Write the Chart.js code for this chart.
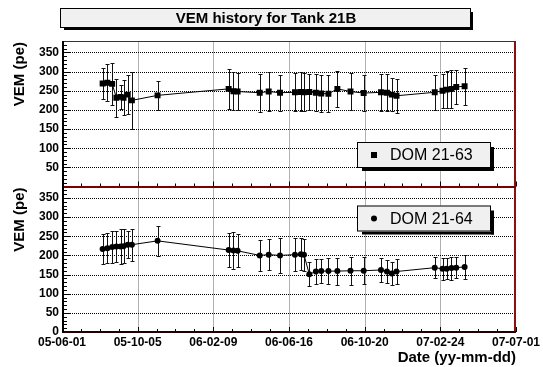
<!DOCTYPE html>
<html lang="en">
<head>
    <meta charset="utf-8">
    <title>VEM history for Tank 21B</title>
    <script src="https://cdn.jsdelivr.net/npm/chart.js"></script>
    <style>
        html, body { margin: 0; padding: 0; background: #fff; }
        #wrap { position: relative; width: 543px; height: 367px; }
    </style>
</head>
<body>
    <div id="wrap"><canvas id="grafico"></canvas></div>

    <script>
        // run dates (yyyy-mm-dd)
        let datas = ['2005-08-08', '2005-08-16', '2005-08-24', '2005-08-31', '2005-09-07', '2005-09-12', '2005-09-19',
            '2005-09-26', '2005-11-08', '2006-03-07', '2006-03-15', '2006-03-22', '2006-04-28', '2006-05-13',
            '2006-06-01', '2006-06-26', '2006-07-06', '2006-07-11', '2006-07-20', '2006-07-31', '2006-08-09',
            '2006-08-21', '2006-09-05', '2006-09-27', '2006-10-19', '2006-11-17', '2006-11-27', '2006-12-05',
            '2006-12-13', '2007-02-15', '2007-02-28', '2007-03-07', '2007-03-15', '2007-03-23', '2007-04-06'];

        // DOM 21-63 : VEM (pe) and its error
        let vem63 = [269, 271, 268, 232, 234, 232, 240, 225, 238, 255, 249, 248, 245, 248, 245, 246, 247, 246,
            247, 245, 243, 242, 255, 248, 244, 246, 245, 240, 237, 246, 250, 253, 255, 260, 262];
        let err63 = [41, 48, 54, 50, 31, 46, 50, 75, 37, 52, 49, 49, 50, 50, 47, 50, 51, 50,
            48, 49, 49, 48, 47, 48, 48, 48, 49, 44, 44, 45, 45, 48, 49, 45, 48];

        // DOM 21-64 : VEM (pe) and its error
        let vem64 = [217, 219, 222, 223, 223, 224, 228, 228, 238, 214, 213, 212, 200, 202, 200, 202, 203, 202,
            151, 158, 159, 159, 159, 160, 160, 162, 158, 153, 158, 168, 165, 165, 167, 168, 170];
        let err64 = [39, 39, 41, 40, 46, 45, 36, 42, 40, 44, 48, 43, 41, 41, 45, 43, 42, 42,
            32, 32, 32, 33, 35, 36, 35, 32, 29, 31, 32, 28, 28, 27, 30, 27, 32];

        // axis range and tick labels
        let inicio = '2005-06-01';
        let fim = '2007-07-01';
        let divisoesX = 6;
        let ticksYTopo = [50, 100, 150, 200, 250, 300, 350];
        let ticksYBase = [0, 50, 100, 150, 200, 250, 300, 350];
        let maxY = 380;

        const t0 = Date.parse(inicio);
        const t1 = Date.parse(fim);
        const fonte = '"Liberation Sans", Arial, Helvetica, sans-serif';

        function fmtData(v) {
            let d = new Date(Math.round(v) + 1000);
            let p = n => String(n).padStart(2, '0');
            return p(d.getUTCFullYear() % 100) + '-' + p(d.getUTCMonth() + 1) + '-' + p(d.getUTCDate());
        }

        function pontos(vals) {
            return datas.map((d, i) => ({ x: Date.parse(d), y: vals[i] }));
        }

        function eixoY(ticks) {
            return {
                type: 'linear',
                position: 'left',
                stack: 'vem',
                stackWeight: 1,
                min: 0,
                max: maxY,
                afterBuildTicks: s => { s.ticks = ticks.map(v => ({ value: v })); },
                afterFit: s => { s.width = 62; },
                grid: { display: false, drawTicks: false },
                border: { display: false },
                ticks: {
                    color: '#000',
                    padding: 3,
                    autoSkip: false,
                    font: { family: fonte, size: 12, weight: 'bold' }
                }
            };
        }

        function caixa(ctx, x, y, w, h, sombra) {
            ctx.fillStyle = '#000';
            ctx.fillRect(x + sombra + 2, y + h, w - 2, sombra);
            ctx.fillRect(x + w, y + sombra + 2, sombra, h - 2);
            ctx.fillStyle = '#f0f0f0';
            ctx.fillRect(x, y, w, h);
            ctx.strokeStyle = '#000';
            ctx.lineWidth = 1;
            ctx.strokeRect(x + 0.5, y + 0.5, w - 1, h - 1);
        }

        // ROOT style decorations: grid, error bars, frame, inner ticks, titles, legend boxes
        const estiloRoot = {
            id: 'estiloRoot',
            beforeDatasetsDraw(chart) {
                const ctx = chart.ctx;
                const area = chart.chartArea;
                const L = Math.round(area.left), R = Math.round(area.right);
                ctx.save();

                // vertical grid at the date divisions
                ctx.strokeStyle = '#b0b0b0';
                ctx.lineWidth = 1;
                for (let k = 1; k < divisoesX; k++) {
                    const x = Math.round(area.left + k * area.width / divisoesX) + 0.5;
                    ctx.beginPath();
                    ctx.moveTo(x, area.top);
                    ctx.lineTo(x, area.bottom);
                    ctx.stroke();
                }

                // horizontal dotted grid, one set per panel
                ctx.fillStyle = '#000';
                [chart.scales.yTopo, chart.scales.yBase].forEach(ys => {
                    ys.ticks.forEach(t => {
                        if (t.value === 0) return;
                        const y = Math.round(ys.getPixelForValue(t.value));
                        for (let x = L + 2; x < R; x += 2) ctx.fillRect(x, y, 1, 1);
                    });
                });

                // error bars
                ctx.beginPath();
                ctx.rect(area.left, area.top, area.width, area.height);
                ctx.clip();
                ctx.strokeStyle = '#111';
                ctx.lineWidth = 1;
                chart.data.datasets.forEach((ds, i) => {
                    const meta = chart.getDatasetMeta(i);
                    const ys = chart.scales[ds.yAxisID];
                    meta.data.forEach((pt, j) => {
                        const v = ds.data[j].y, e = ds.erros[j];
                        const x = Math.round(pt.x) + 0.5;
                        const a = Math.round(ys.getPixelForValue(v + e)) + 0.5;
                        const b = Math.round(ys.getPixelForValue(v - e)) + 0.5;
                        ctx.beginPath();
                        ctx.moveTo(x, a); ctx.lineTo(x, b);
                        ctx.moveTo(x - 2, a); ctx.lineTo(x + 2, a);
                        ctx.moveTo(x - 2, b); ctx.lineTo(x + 2, b);
                        ctx.stroke();
                    });
                });
                ctx.restore();
            },
            afterDraw(chart) {
                const ctx = chart.ctx;
                const area = chart.chartArea;
                const sx = chart.scales.x;
                const paineis = [chart.scales.yTopo, chart.scales.yBase];
                ctx.save();

                // inner ticks on the y axes and along the bottom of each panel
                ctx.strokeStyle = '#000';
                ctx.lineWidth = 1;
                paineis.forEach(ys => {
                    for (let v = 0; v <= maxY; v += 10) {
                        const y = Math.round(ys.getPixelForValue(v)) + 0.5;
                        const len = v % 50 === 0 ? 9 : 5;
                        ctx.beginPath();
                        ctx.moveTo(area.left, y); ctx.lineTo(area.left + len, y);
                        ctx.stroke();
                    }
                    const passo = (t1 - t0) / divisoesX / 4;
                    for (let k = 0; k <= divisoesX * 4; k++) {
                        const x = Math.round(sx.getPixelForValue(t0 + k * passo)) + 0.5;
                        const len = k % 4 === 0 ? 5 : 3;
                        ctx.beginPath();
                        ctx.moveTo(x, ys.bottom); ctx.lineTo(x, ys.bottom - len);
                        ctx.stroke();
                    }
                });

                // frame
                ctx.strokeStyle = '#8a1010';
                ctx.lineWidth = 1;
                ctx.strokeRect(area.left + 0.5, area.top + 0.5, area.width - 1, area.height - 1);
                ctx.lineWidth = 2;
                ctx.beginPath();
                ctx.moveTo(area.right - 1, area.top); ctx.lineTo(area.right - 1, area.bottom);
                ctx.stroke();
                const meio = Math.round(chart.scales.yTopo.bottom);
                ctx.strokeStyle = '#7a0000';
                ctx.beginPath();
                ctx.moveTo(area.left, meio); ctx.lineTo(area.right, meio);
                ctx.stroke();
                ctx.strokeStyle = '#200000';
                ctx.beginPath();
                ctx.moveTo(area.left, area.bottom); ctx.lineTo(area.right, area.bottom);
                ctx.stroke();
                ctx.strokeStyle = '#000';
                ctx.beginPath();
                ctx.moveTo(area.left + 1, area.top); ctx.lineTo(area.left + 1, area.bottom + 1);
                ctx.stroke();

                // axis titles
                ctx.fillStyle = '#000';
                ctx.font = 'bold 15px ' + fonte;
                paineis.forEach(ys => {
                    ctx.save();
                    ctx.translate(20, ys.top + 1);
                    ctx.rotate(-Math.PI / 2);
                    ctx.textAlign = 'right';
                    ctx.textBaseline = 'middle';
                    ctx.fillText('VEM (pe)', 0, 0);
                    ctx.restore();
                });
                ctx.textAlign = 'right';
                ctx.textBaseline = 'middle';
                ctx.fillText('Date (yy-mm-dd)', area.right, 358);

                // title box
                caixa(ctx, 60, 8, 411, 20, 2);
                ctx.fillStyle = '#000';
                ctx.font = 'bold 15px ' + fonte;
                ctx.textAlign = 'center';
                ctx.fillText('VEM history for Tank 21B', 266, 19);

                // legend boxes
                chart.data.datasets.forEach(ds => {
                    const ys = chart.scales[ds.yAxisID];
                    const top = ys.top + ds.legendaTopo;
                    caixa(ctx, 357, top, 134, 26, 3);
                    const cy = top + 13;
                    ctx.fillStyle = '#000';
                    if (ds.pointStyle === 'rect') {
                        ctx.fillRect(371, cy - 3, 6, 6);
                    } else {
                        ctx.beginPath();
                        ctx.arc(374, cy, 3, 0, Math.PI * 2);
                        ctx.fill();
                    }
                    ctx.font = '16px ' + fonte;
                    ctx.textAlign = 'left';
                    ctx.textBaseline = 'middle';
                    ctx.fillText(ds.label, 390, cy + 1);
                });
                ctx.restore();
            }
        };

        new Chart(document.getElementById('grafico'), {
            type: 'line',
            data: {
                datasets: [{
                    label: 'DOM 21-64',
                    data: pontos(vem64),
                    erros: err64,
                    yAxisID: 'yBase',
                    legendaTopo: 19,
                    borderColor: '#000',
                    backgroundColor: '#000',
                    borderWidth: 1,
                    pointStyle: 'circle',
                    pointRadius: 3,
                    pointBorderWidth: 0,
                    tension: 0
                }, {
                    label: 'DOM 21-63',
                    data: pontos(vem63),
                    erros: err63,
                    yAxisID: 'yTopo',
                    legendaTopo: 101,
                    borderColor: '#000',
                    backgroundColor: '#000',
                    borderWidth: 1,
                    pointStyle: 'rect',
                    pointRadius: 4.2,
                    pointBorderWidth: 0,
                    tension: 0
                }]
            },
            options: {
                responsive: true,
                maintainAspectRatio: false,
                animation: false,
                layout: { padding: { left: 0, top: 41, right: 25, bottom: 0 } },
                plugins: {
                    legend: { display: false },
                    title: { display: false },
                    tooltip: { enabled: false }
                },
                scales: {
                    x: {
                        type: 'linear',
                        min: t0,
                        max: t1,
                        afterBuildTicks: s => {
                            s.ticks = [];
                            for (let k = 0; k <= divisoesX; k++) s.ticks.push({ value: t0 + k * (t1 - t0) / divisoesX });
                        },
                        afterFit: s => { s.height = 35; },
                        grid: { display: false, drawTicks: false },
                        border: { display: false },
                        ticks: {
                            color: '#000',
                            padding: 3,
                            autoSkip: false,
                            maxRotation: 0,
                            font: { family: fonte, size: 12, weight: 'bold' },
                            callback: v => fmtData(v)
                        }
                    },
                    yBase: eixoY(ticksYBase),
                    yTopo: eixoY(ticksYTopo)
                }
            },
            plugins: [estiloRoot]
        });
    </script>
</body>
</html>
